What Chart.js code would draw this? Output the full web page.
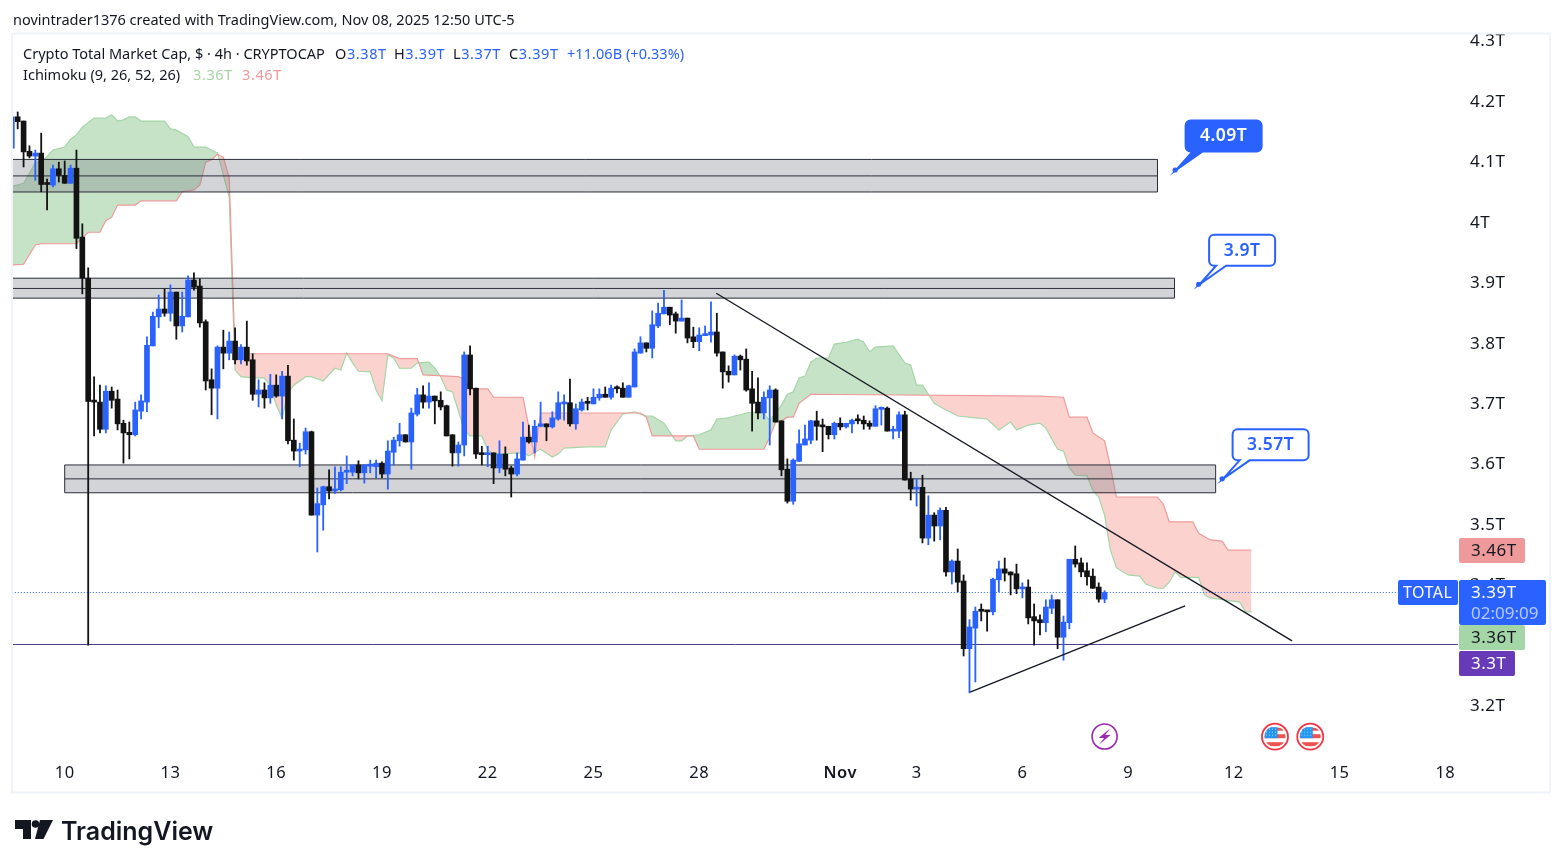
<!DOCTYPE html>
<html lang="en">
<head>
<meta charset="UTF-8">
<title>Crypto Total Market Cap</title>
<style>
    html, body { margin: 0; padding: 0; background: #fff; overflow: hidden; }
    body { width: 1563px; height: 868px; position: relative; font-family: "Noto Sans", sans-serif; color: #131722; }
    canvas { position: absolute; left: 0; top: 0; }
    .txt { position: absolute; white-space: nowrap; font-size: 14.5px; line-height: 20px; }
    .val { letter-spacing: 0.6px; }
    .blue { color: #2962ff; }
    .logo { position: absolute; left: 15px; top: 820px; }
    .brand { position: absolute; left: 61px; top: 814px; font: 600 25px/34px Inter, sans-serif; color: #131722; }
</style>
</head>
<body>
<canvas id="chart" width="1563" height="868"></canvas>
<div class="txt" style="left:13px;top:9px">novintrader1376 created with TradingView.com, Nov 08, 2025 12:50 UTC-5</div>
<div class="txt" style="left:23px;top:43px">Crypto Total Market Cap, $ · 4h · CRYPTOCAP</div>
<div class="txt val" style="left:335px;top:43px">O<span class="blue">3.38T</span></div>
<div class="txt val" style="left:394px;top:43px">H<span class="blue">3.39T</span></div>
<div class="txt val" style="left:453px;top:43px">L<span class="blue">3.37T</span></div>
<div class="txt val" style="left:509px;top:43px">C<span class="blue">3.39T</span></div>
<div class="txt val blue" style="left:567px;top:43px;letter-spacing:0.05px">+11.06B (+0.33%)</div>
<div class="txt" style="left:23px;top:64px">Ichimoku (9, 26, 52, 26)</div>
<div class="txt val" style="left:193px;top:64px;color:#a5d6a7">3.36T</div>
<div class="txt val" style="left:242px;top:64px;color:#ef9a9a">3.46T</div>
<svg class="logo" width="38" height="20" viewBox="0 0 38 20">
    <path d="M0 0H16V19H8V9H0Z" fill="#131722"/>
    <circle cx="20.5" cy="4" r="3.8" fill="#131722"/>
    <path d="M25 0H38L28.5 19H20Z" fill="#131722"/>
</svg>
<div class="brand">TradingView</div>

<script src="https://cdn.jsdelivr.net/npm/chart.js"></script>
<script>
// 4h candles in T, first bar sits at index -1 (only its edge shows)
const opens = [4.121,
    4.173,4.166,4.116,4.108,4.113,4.062,4.060,4.087,4.076,4.063,4.088,3.974,3.906,3.702,3.701,3.656,3.719,3.706,3.666,3.651,
    3.647,3.686,3.701,3.794,3.842,3.855,3.848,3.883,3.827,3.842,3.903,3.893,3.834,3.738,3.724,3.792,3.782,3.802,3.771,3.792,
    3.771,3.714,3.721,3.708,3.729,3.711,3.744,3.638,3.620,3.622,3.652,3.514,3.531,3.561,3.554,3.556,3.585,3.585,3.597,3.584,
    3.595,3.594,3.600,3.582,3.618,3.637,3.647,3.635,3.681,3.713,3.701,3.711,3.704,3.695,3.647,3.617,3.630,3.779,3.724,3.617,
    3.614,3.617,3.592,3.615,3.592,3.582,3.605,3.643,3.635,3.661,3.665,3.660,3.673,3.698,3.700,3.665,3.688,3.701,3.698,3.708,
    3.714,3.709,3.724,3.724,3.709,3.726,3.782,3.799,3.790,3.827,3.847,3.858,3.847,3.835,3.840,3.809,3.801,3.811,3.812,3.817,
    3.784,3.752,3.746,3.777,3.772,3.723,3.701,3.683,3.708,3.721,3.670,3.590,3.537,3.603,3.630,3.638,3.670,3.663,3.661,3.647,
    3.666,3.660,3.665,3.671,3.671,3.666,3.661,3.689,3.691,3.653,3.653,3.680,3.574,3.557,3.560,3.476,3.514,3.496,3.522,3.420,
    3.438,3.405,3.293,3.327,3.357,3.355,3.354,3.407,3.425,3.420,3.417,3.392,3.395,3.346,3.341,3.336,3.360,3.374,3.312,3.336,
    3.441,3.435,3.422,3.413,3.395,3.375];
const highs = [4.173,
    4.181,4.166,4.125,4.118,4.146,4.070,4.093,4.098,4.100,4.093,4.118,3.996,3.923,3.743,3.729,3.728,3.726,3.721,3.671,3.668,
    3.701,3.713,3.809,3.850,3.878,3.888,3.895,3.883,3.883,3.910,3.915,3.905,3.837,3.756,3.794,3.820,3.817,3.824,3.796,3.835,
    3.781,3.738,3.733,3.747,3.746,3.752,3.762,3.673,3.633,3.658,3.653,3.559,3.562,3.589,3.594,3.594,3.612,3.597,3.604,3.597,
    3.605,3.605,3.602,3.637,3.643,3.666,3.647,3.691,3.724,3.728,3.733,3.711,3.718,3.696,3.647,3.635,3.784,3.794,3.724,3.628,
    3.628,3.617,3.637,3.627,3.595,3.617,3.668,3.663,3.671,3.701,3.665,3.685,3.718,3.713,3.739,3.698,3.706,3.709,3.723,3.723,
    3.726,3.729,3.728,3.733,3.729,3.789,3.809,3.799,3.852,3.865,3.886,3.858,3.850,3.870,3.840,3.825,3.824,3.827,3.867,3.848,
    3.784,3.761,3.779,3.779,3.789,3.752,3.741,3.718,3.728,3.723,3.670,3.607,3.607,3.655,3.663,3.671,3.686,3.673,3.661,3.668,
    3.675,3.666,3.673,3.680,3.678,3.670,3.695,3.693,3.693,3.661,3.685,3.686,3.585,3.574,3.580,3.546,3.518,3.526,3.527,3.440,
    3.458,3.415,3.341,3.362,3.367,3.355,3.410,3.438,3.443,3.420,3.433,3.402,3.407,3.367,3.349,3.374,3.382,3.374,3.347,3.441,
    3.463,3.443,3.435,3.425,3.402,3.389];
const lows = [4.121,
    4.153,4.090,4.105,4.068,4.049,4.019,4.057,4.065,4.063,4.063,3.955,3.880,3.299,3.645,3.650,3.650,3.691,3.655,3.600,3.607,
    3.645,3.673,3.685,3.794,3.824,3.843,3.835,3.805,3.817,3.842,3.886,3.825,3.721,3.680,3.673,3.756,3.771,3.764,3.764,3.762,
    3.704,3.693,3.691,3.699,3.709,3.673,3.632,3.605,3.594,3.615,3.514,3.453,3.489,3.541,3.550,3.554,3.566,3.579,3.574,3.567,
    3.584,3.576,3.576,3.557,3.597,3.628,3.635,3.590,3.678,3.691,3.691,3.665,3.688,3.645,3.595,3.595,3.612,3.713,3.608,3.597,
    3.594,3.566,3.584,3.579,3.544,3.579,3.605,3.633,3.617,3.660,3.637,3.658,3.671,3.671,3.661,3.656,3.686,3.688,3.698,3.704,
    3.709,3.706,3.716,3.709,3.709,3.726,3.782,3.784,3.774,3.824,3.847,3.829,3.815,3.835,3.799,3.791,3.786,3.811,3.800,3.777,
    3.724,3.734,3.746,3.754,3.719,3.653,3.673,3.673,3.630,3.668,3.579,3.534,3.532,3.603,3.630,3.632,3.638,3.619,3.640,3.640,
    3.655,3.658,3.650,3.665,3.656,3.656,3.661,3.663,3.653,3.640,3.642,3.572,3.539,3.529,3.468,3.465,3.471,3.473,3.413,3.400,
    3.387,3.281,3.220,3.238,3.339,3.322,3.349,3.387,3.405,3.382,3.384,3.377,3.334,3.299,3.316,3.321,3.351,3.293,3.274,3.326,
    3.428,3.412,3.398,3.393,3.370,3.369];
const closes = [4.173,
    4.165,4.115,4.108,4.113,4.061,4.061,4.087,4.076,4.063,4.088,3.972,3.906,3.702,3.701,3.656,3.719,3.704,3.665,3.650,3.647,
    3.688,3.703,3.795,3.843,3.855,3.848,3.883,3.827,3.843,3.903,3.891,3.832,3.736,3.724,3.792,3.782,3.802,3.771,3.792,3.769,
    3.714,3.721,3.708,3.729,3.711,3.744,3.637,3.620,3.623,3.652,3.514,3.533,3.561,3.554,3.557,3.585,3.587,3.597,3.584,3.597,
    3.597,3.600,3.582,3.620,3.638,3.647,3.635,3.683,3.713,3.701,3.711,3.703,3.693,3.645,3.617,3.630,3.779,3.723,3.615,3.614,
    3.617,3.592,3.615,3.590,3.582,3.607,3.643,3.635,3.661,3.665,3.660,3.675,3.700,3.700,3.665,3.690,3.701,3.699,3.709,3.714,
    3.709,3.724,3.723,3.709,3.728,3.784,3.799,3.790,3.829,3.848,3.858,3.845,3.835,3.840,3.807,3.801,3.812,3.814,3.817,3.782,
    3.751,3.746,3.777,3.771,3.721,3.699,3.683,3.709,3.721,3.668,3.589,3.537,3.605,3.632,3.640,3.670,3.661,3.660,3.647,3.666,
    3.660,3.666,3.671,3.670,3.665,3.661,3.690,3.691,3.653,3.655,3.680,3.572,3.557,3.560,3.476,3.514,3.496,3.522,3.420,3.438,
    3.403,3.293,3.329,3.355,3.355,3.354,3.408,3.425,3.418,3.415,3.392,3.395,3.344,3.339,3.336,3.362,3.374,3.312,3.337,3.441,
    3.433,3.420,3.412,3.393,3.375,3.386];

// ichimoku cloud edges, read at the corners only
const spanABars = [-1,1,2,3,4,5,6,8,9,10,11,13,15,16,17,18,19,20,21,25,26,27,29,30,32,34,36,37,38,40,42,43,44,45,46,47,49,50,52,54,55,56,57,58,60,61,62,63,64,65,67,68,70,71,72,73,74,76,77,79,80,81,86,87,88,89,91,92,93,97,100,101,103,105,106,107,108,110,112,113,114,116,118,119,121,122,123,124,126,127,128,130,131,132,133,134,135,136,138,139,141,143,144,145,146,149,151,152,153,154,156,158,160,163,165,167,169,170,172,174,175,177,178,179,180,182,183,184,185,186,187,189,191,192,194,195,196,197,198,201,202,203,208,209,210];
const spanAVals = [4.058,4.063,4.080,4.097,4.100,4.107,4.118,4.123,4.136,4.143,4.156,4.171,4.171,4.176,4.166,4.168,4.173,4.173,4.166,4.166,4.153,4.151,4.140,4.123,4.123,4.113,4.040,3.754,3.743,3.741,3.741,3.728,3.696,3.675,3.716,3.729,3.743,3.743,3.736,3.757,3.754,3.782,3.766,3.752,3.751,3.721,3.703,3.779,3.774,3.757,3.757,3.766,3.767,3.757,3.743,3.721,3.718,3.655,3.645,3.645,3.622,3.615,3.617,3.612,3.618,3.623,3.610,3.615,3.625,3.627,3.627,3.655,3.681,3.685,3.681,3.678,3.678,3.666,3.637,3.637,3.645,3.647,3.655,3.673,3.675,3.678,3.680,3.683,3.685,3.683,3.670,3.696,3.714,3.718,3.741,3.744,3.767,3.774,3.774,3.797,3.800,3.805,3.800,3.784,3.792,3.794,3.766,3.762,3.729,3.729,3.699,3.688,3.678,3.675,3.673,3.655,3.668,3.655,3.663,3.666,3.658,3.623,3.620,3.592,3.580,3.579,3.555,3.544,3.514,3.456,3.427,3.415,3.413,3.400,3.393,3.393,3.403,3.420,3.411,3.411,3.382,3.377,3.370,3.354,3.354];
const spanBBars = [-1,1,3,4,10,12,14,15,16,17,20,21,27,28,30,31,32,33,34,35,36,37,63,65,68,69,75,76,77,80,81,86,87,88,89,106,107,108,115,116,127,128,129,130,131,132,133,135,174,178,179,182,183,185,186,187,194,195,196,200,201,203,205,206,210];
const spanBVals = [3.928,3.929,3.961,3.963,3.963,3.982,3.982,4.001,4.007,4.027,4.027,4.034,4.034,4.049,4.052,4.060,4.098,4.102,4.111,4.106,4.072,3.781,3.781,3.773,3.773,3.746,3.743,3.739,3.723,3.723,3.709,3.709,3.660,3.610,3.683,3.683,3.676,3.645,3.645,3.623,3.623,3.643,3.668,3.670,3.676,3.676,3.699,3.714,3.711,3.709,3.676,3.676,3.650,3.637,3.594,3.544,3.544,3.532,3.503,3.503,3.484,3.473,3.471,3.456,3.456];

// drawn boxes on the chart: top, middle, bottom, first bar, last bar
const zoneTops = [4.1025, 3.906, 3.597];
const zoneMids = [4.0752, 3.889, 3.574];
const zoneBots = [4.0486, 3.873, 3.551];
const zoneStarts = [-0.8, -0.8, 8];
const zoneEnds = [194, 196.9, 203.9];

// trend lines
const downLineBars = [118.9, 216.9];
const downLineVals = [3.881, 3.306];
const upLineBars = [162.1, 198.7];
const upLineVals = [3.221, 3.364];

const lastPrice = 3.386;
const lowLevel = 3.3;

// callouts
const calloutText = ['4.09T', '3.9T', '3.57T'];
const calloutBars = [197, 201, 205];
const calloutVals = [4.085, 3.896, 3.574];

// axes
const yTicks = [4.3, 4.2, 4.1, 4, 3.9, 3.8, 3.7, 3.6, 3.5, 3.4, 3.2];
const xTickBars = [8, 26, 44, 62, 80, 98, 116, 140, 153, 171, 189, 207, 225, 243];
const xTickText = ['10', '13', '16', '19', '22', '25', '28', 'Nov', '3', '6', '9', '12', '15', '18'];

const boltBars = [185];
const flagBars = [214, 220];

const BLUE = '#2962ff', BLACK = '#131313';
const candleColors = opens.map((o, k) => closes[k] >= o ? BLUE : BLACK);
const xy = (xs, ys) => xs.map((x, k) => ({ x: x, y: ys[k] }));

function drawZones(chart) {
    const { ctx, scales: { x, y } } = chart;
    ctx.save();
    zoneTops.forEach((top, k) => {
        const x0 = x.getPixelForValue(zoneStarts[k]), x1 = x.getPixelForValue(zoneEnds[k]);
        const y0 = y.getPixelForValue(top), y1 = y.getPixelForValue(zoneBots[k]), ym = y.getPixelForValue(zoneMids[k]);
        ctx.fillStyle = 'rgba(120,123,134,0.33)';
        ctx.fillRect(x0, y0, x1 - x0, y1 - y0);
        ctx.strokeStyle = '#2a2e39';
        ctx.lineWidth = 1;
        ctx.beginPath();
        ctx.moveTo(x0, y0); ctx.lineTo(x1, y0); ctx.lineTo(x1, y1); ctx.lineTo(x0, y1);
        if (zoneStarts[k] > 0) ctx.lineTo(x0, y0);
        ctx.moveTo(x0, ym); ctx.lineTo(x1, ym);
        ctx.stroke();
    });
    ctx.restore();
}

function drawCallout(ctx, px, py, text, filled) {
    ctx.font = '600 17.5px "Noto Sans", sans-serif';
    const w = Math.round(ctx.measureText(text).width) + 29, h = 31, r = 5;
    const l = px + 10.5, t = py - 49.5, b = t + h;
    ctx.beginPath();
    ctx.moveTo(l + r, t);
    ctx.arcTo(l + w, t, l + w, b, r);
    ctx.arcTo(l + w, b, l, b, r);
    ctx.lineTo(l + 17, b);
    ctx.lineTo(px + 1, py);
    ctx.lineTo(l + 7, b);
    ctx.arcTo(l, b, l, t, r);
    ctx.arcTo(l, t, l + w, t, r);
    ctx.closePath();
    ctx.lineWidth = 2;
    ctx.strokeStyle = BLUE;
    ctx.fillStyle = filled ? BLUE : '#fff';
    ctx.fill();
    ctx.stroke();
    ctx.beginPath();
    ctx.arc(px, py, 2.6, 0, Math.PI * 2);
    ctx.fillStyle = BLUE;
    ctx.fill();
    ctx.fillStyle = filled ? '#fff' : BLUE;
    ctx.textAlign = 'center';
    ctx.textBaseline = 'middle';
    ctx.fillText(text, l + w / 2, t + h / 2 + 0.5);
}

function priceTag(ctx, left, top, w, h, bg, color, text, textX) {
    ctx.fillStyle = bg;
    ctx.beginPath();
    ctx.roundRect(left, top, w, h, 2);
    ctx.fill();
    ctx.fillStyle = color;
    ctx.textAlign = 'left';
    ctx.textBaseline = 'middle';
    ctx.fillText(text, textX, top + 13);
}

function drawBolt(ctx, cx, cy) {
    ctx.beginPath();
    ctx.arc(cx, cy, 12.5, 0, Math.PI * 2);
    ctx.fillStyle = '#fff';
    ctx.fill();
    ctx.lineWidth = 1.6;
    ctx.strokeStyle = '#9c27b0';
    ctx.stroke();
    ctx.fillStyle = '#9c27b0';
    ctx.beginPath();
    ctx.moveTo(cx + 5.5, cy - 8);
    ctx.lineTo(cx - 6, cy + 1.5);
    ctx.lineTo(cx - 0.5, cy + 1.5);
    ctx.lineTo(cx - 5.5, cy + 8);
    ctx.lineTo(cx + 6, cy - 1.5);
    ctx.lineTo(cx + 0.5, cy - 1.5);
    ctx.closePath();
    ctx.fill();
}

function drawFlag(ctx, cx, cy) {
    ctx.save();
    ctx.beginPath();
    ctx.arc(cx, cy, 13, 0, Math.PI * 2);
    ctx.fillStyle = '#fff';
    ctx.fill();
    ctx.lineWidth = 1.8;
    ctx.strokeStyle = '#f23645';
    ctx.stroke();
    ctx.beginPath();
    ctx.arc(cx, cy, 10.5, 0, Math.PI * 2);
    ctx.clip();
    ctx.fillStyle = '#ef5350';
    ctx.fillRect(cx - 11, cy - 9, 22, 3);
    ctx.fillRect(cx - 11, cy - 2.5, 22, 4);
    ctx.fillRect(cx - 11, cy + 5.5, 22, 4);
    ctx.fillStyle = '#2196f3';
    ctx.fillRect(cx - 10.5, cy - 9.5, 13, 11);
    ctx.fillStyle = 'rgba(255,255,255,0.6)';
    for (let a = -9; a < 2; a += 3) {
        for (let b = -8; b < 1; b += 3) ctx.fillRect(cx + a, cy + b, 1, 1);
    }
    ctx.restore();
}

const overlays = {
    id: 'overlays',
    beforeDraw(chart) {
        chart.ctx.letterSpacing = '0.5px';
    },
    beforeDatasetDraw(chart, args) {
        if (args.meta.label === 'wicks') drawZones(chart);
    },
    afterDraw(chart) {
        const { ctx, scales: { x, y } } = chart;
        ctx.save();
        ctx.strokeStyle = '#f0f3fa';
        ctx.lineWidth = 2;
        ctx.strokeRect(12, 33.5, 1538, 759);

        calloutText.forEach((t, k) => {
            drawCallout(ctx, x.getPixelForValue(calloutBars[k]), y.getPixelForValue(calloutVals[k]), t, k === 0);
        });

        ctx.font = '16px "Noto Sans", sans-serif';
        priceTag(ctx, 1398, 580, 60, 25, BLUE, '#fff', 'TOTAL', 1403);
        ctx.font = '17px "Noto Sans", sans-serif';
        priceTag(ctx, 1459, 538, 66, 25, '#ef9a9a', '#131722', '3.46T', 1471);
        priceTag(ctx, 1459, 625, 66, 25, '#a5d6a7', '#131722', '3.36T', 1471);
        priceTag(ctx, 1459, 651, 56, 25, '#673ab7', '#fff', '3.3T', 1471);
        priceTag(ctx, 1459, 580, 87, 45, BLUE, '#fff', '3.39T', 1471);
        ctx.letterSpacing = '0px';
        ctx.fillStyle = 'rgba(255,255,255,0.65)';
        ctx.fillText('02:09:09', 1471, 614);

        boltBars.forEach(b => drawBolt(ctx, x.getPixelForValue(b), 736.5));
        flagBars.forEach(b => drawFlag(ctx, x.getPixelForValue(b), 736.7));
        ctx.restore();
    }
};

new Chart(document.getElementById('chart'), {
    type: 'bar',
    data: {
        datasets: [
            { type: 'line', label: 'down trend', data: xy(downLineBars, downLineVals), borderColor: '#131722', borderWidth: 1.3, pointRadius: 0, order: 1 },
            { type: 'line', label: 'up trend', data: xy(upLineBars, upLineVals), borderColor: '#131722', borderWidth: 1.3, pointRadius: 0, order: 1 },
            { label: 'bodies', data: opens.map((o, k) => ({ x: k - 1, y: [o, closes[k]] })), backgroundColor: candleColors, barThickness: 5, minBarLength: 2, grouped: false, order: 2 },
            { label: 'wicks', data: lows.map((l, k) => ({ x: k - 1, y: [l, highs[k]] })), backgroundColor: candleColors, barThickness: 1.15, grouped: false, order: 3 },
            { type: 'line', label: 'last price', data: xy([-1, 246], [lastPrice, lastPrice]), borderColor: BLUE, borderWidth: 1, borderDash: [1, 2], pointRadius: 0, order: 4 },
            { type: 'line', label: 'low level', data: xy([-1, 246], [lowLevel, lowLevel]), borderColor: '#4a3a8c', borderWidth: 1, pointRadius: 0, order: 4 },
            { type: 'line', label: 'span a', data: xy(spanABars, spanAVals), borderColor: '#a5d6a7', borderWidth: 1.2, pointRadius: 0, order: 6,
              fill: { target: 7, above: 'rgba(67,160,71,0.3)', below: 'rgba(244,67,54,0.24)' } },
            { type: 'line', label: 'span b', data: xy(spanBBars, spanBVals), borderColor: '#ef9a9a', borderWidth: 1.2, pointRadius: 0, order: 5 }
        ]
    },
    options: {
        responsive: false,
        animation: false,
        devicePixelRatio: 1,
        layout: { padding: { left: 13, top: 34, right: 13, bottom: 75 } },
        plugins: { legend: { display: false }, tooltip: { enabled: false } },
        scales: {
            x: {
                type: 'linear',
                offset: false,
                min: -0.8,
                max: 245.15,
                grid: { display: false, drawTicks: false },
                border: { display: false },
                afterBuildTicks(axis) { axis.ticks = xTickBars.map(v => ({ value: v })); },
                afterFit(axis) { axis.height = 39; },
                ticks: {
                    autoSkip: false,
                    maxRotation: 0,
                    padding: 9,
                    color: '#131722',
                    font: ctx => ({ family: '"Noto Sans", sans-serif', size: 16.5, weight: xTickText[ctx.index] === 'Nov' ? '600' : '400' }),
                    callback: (v, i) => xTickText[i]
                }
            },
            y: {
                position: 'right',
                min: 3.1188,
                max: 4.31,
                grid: { display: false, drawTicks: false },
                border: { display: false },
                afterBuildTicks(axis) { axis.ticks = yTicks.map(v => ({ value: v })); },
                afterFit(axis) { axis.width = 92; },
                ticks: {
                    autoSkip: false,
                    padding: 12,
                    labelOffset: 1.5,
                    color: '#131722',
                    font: { family: '"Noto Sans", sans-serif', size: 17 },
                    callback: v => v + 'T'
                }
            }
        }
    },
    plugins: [overlays]
});
</script>
</body>
</html>
